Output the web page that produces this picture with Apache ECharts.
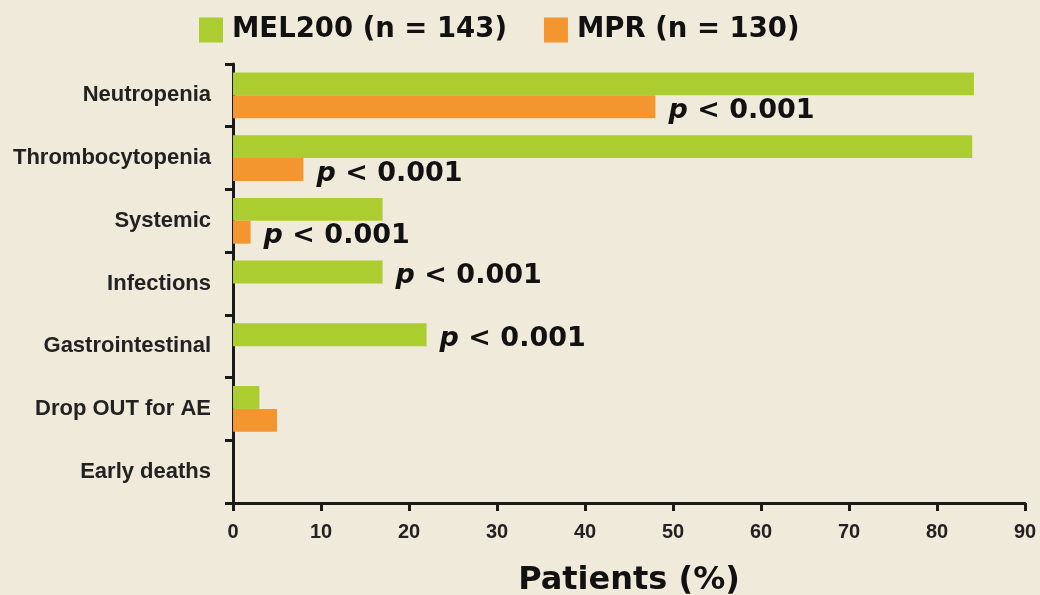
<!DOCTYPE html>
<html><head><meta charset="utf-8">
<script src="https://cdn.jsdelivr.net/npm/echarts@6/dist/echarts.min.js"></script>
<style>html,body{margin:0;padding:0;background:#f0eadb;}#c{width:1040px;height:595px;}</style>
</head><body><div id="c"></div>
<script>
const categories = ['Neutropenia','Thrombocytopenia','Systemic','Infections','Gastrointestinal','Drop OUT for AE','Early deaths'];
const mel200 = [84.2, 84, 17, 17, 22, 3, 0];
const mpr = [48, 8, 2, 0, 0, 5, 0];
const seriesNames = ['MEL200 (n = 143)', 'MPR (n = 130)'];
const pText = ['< 0.001','< 0.001','< 0.001','< 0.001','< 0.001','',''];
const pOnSeries = [1, 1, 1, 0, 0, -1, -1];
const xTicks = {min: 0, max: 90, interval: 10};

const labelStyle = {
  show: true, position: 'right', distance: 13, offset: [0, 4],
  formatter: p => '{i|p}{b| ' + pText[p.dataIndex] + '}',
  rich: {
    i: {fontFamily: 'DejaVu Sans', fontWeight: 'bold', fontStyle: 'italic', fontSize: 27, color: '#111'},
    b: {fontFamily: 'DejaVu Sans', fontWeight: 'bold', fontSize: 27, color: '#111'}
  }
};
function mkData(vals, sIdx) {
  return vals.map((v, i) => pOnSeries[i] === sIdx ? {value: v, label: labelStyle} : {value: v});
}
const chart = echarts.init(document.getElementById('c'));
chart.setOption({
  backgroundColor: '#f0eadb',
  animation: false,
  legend: {
    left: 194, top: 11, itemWidth: 24, itemHeight: 25, itemGap: 37,
    icon: 'rect',
    textStyle: {fontFamily: 'DejaVu Sans', fontWeight: 'bold', fontSize: 27.5, color: '#111', padding: [0,0,0,4]},
    data: seriesNames
  },
  grid: {left: 233, right: 15, top: 64, bottom: 92, containLabel: false, outerBoundsMode: 'none'},
  xAxis: {
    type: 'value', min: xTicks.min, max: xTicks.max, interval: xTicks.interval,
    axisLine: {show: true, lineStyle: {color: '#1a1a1a', width: 3}},
    axisTick: {show: true, length: 8, lineStyle: {color: '#1a1a1a', width: 3}},
    splitLine: {show: false},
    axisLabel: {fontFamily: 'Liberation Sans Narrow, Liberation Sans', fontWeight: 'bold', fontSize: 20, color: '#222', margin: 19},
    name: 'Patients (%)', nameLocation: 'middle', nameGap: 62,
    nameTextStyle: {fontFamily: 'DejaVu Sans', fontWeight: 'bold', fontSize: 32, color: '#111'}
  },
  yAxis: {
    type: 'category', data: categories, inverse: true,
    axisLine: {show: true, lineStyle: {color: '#1a1a1a', width: 3}},
    axisTick: {show: true, length: 8, lineStyle: {color: '#1a1a1a', width: 3}},
    axisLabel: {fontFamily: 'Liberation Sans', fontWeight: 'bold', fontSize: 22, color: '#222', margin: 22}
  },
  series: [
    {name: seriesNames[0], type: 'bar', data: mkData(mel200, 0), itemStyle: {color: '#abcd30'}, barGap: '0%', barCategoryGap: '27%'},
    {name: seriesNames[1], type: 'bar', data: mkData(mpr, 1), itemStyle: {color: '#f4962f'}, barGap: '0%', barCategoryGap: '27%'}
  ]
});
</script></body></html>
